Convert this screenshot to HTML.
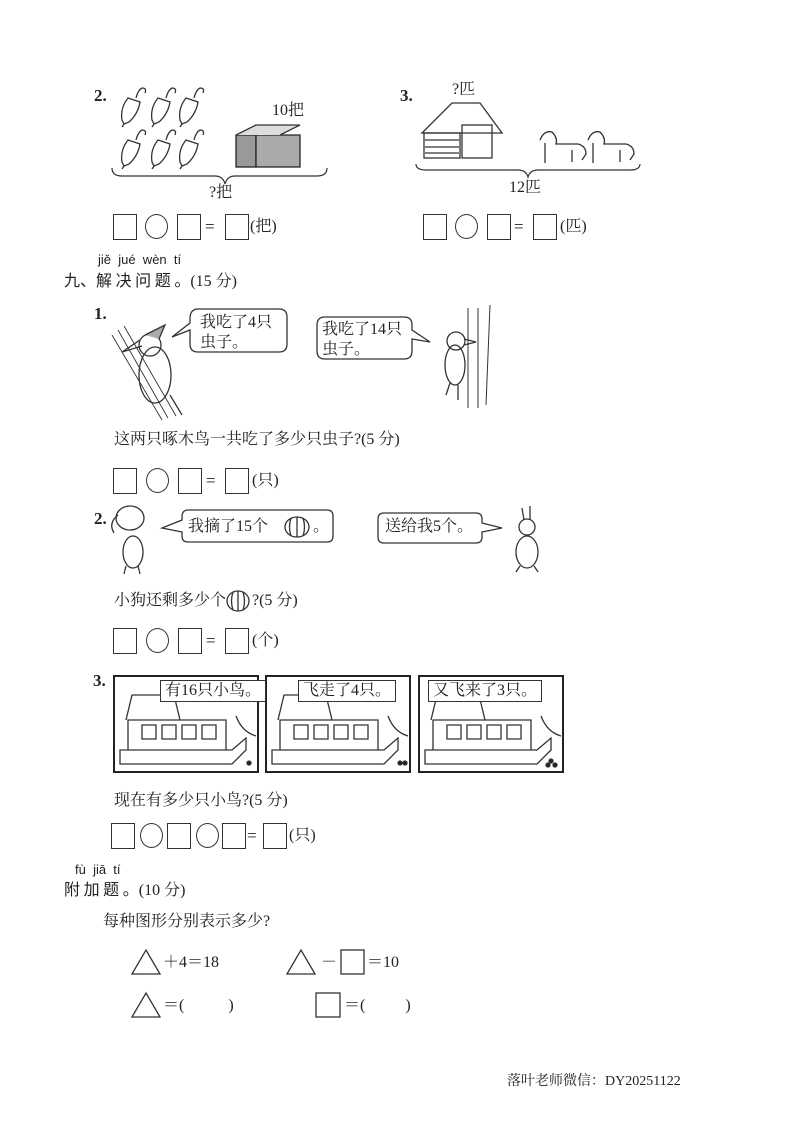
<!DOCTYPE html>
<html><head><meta charset="utf-8"><style>
body{margin:0;background:#fff;}
#p{position:relative;width:793px;height:1122px;overflow:hidden;font-family:"Liberation Serif","Noto Serif CJK SC","Noto Sans CJK SC",serif;color:#222;}
.t{position:absolute;white-space:nowrap;font-size:16px;line-height:1;}
.b{position:absolute;border:1.5px solid #333;width:22px;height:24px;}
.c{position:absolute;border:1.5px solid #333;width:21px;height:23px;border-radius:50%;}
.eq{position:absolute;font-size:17px;}
.n{position:absolute;font-weight:bold;font-size:17px;font-family:"Liberation Serif",serif;}
.py{position:absolute;font-family:"Liberation Sans",sans-serif;font-size:13px;}
.pan{position:absolute;border:2px solid #222;width:142px;height:94px;}
</style></head><body><div id="p">
<svg style="position:absolute;left:0;top:0" width="793" height="1122" fill="none" stroke="#333" stroke-width="1.3">
<!-- umbrellas -->
<g id="u"><path d="M128 98 q-8 10 -6 22 l2 4 l5-2 q9-8 11-20 z"/><path d="M136 98 q2-8 6-10 q5 0 3 5"/><path d="M124 124 l-2 3"/></g>
<use href="#u" x="30"/><use href="#u" x="58"/><use href="#u" y="42"/><use href="#u" x="30" y="42"/><use href="#u" x="58" y="42"/>
<!-- box -->
<rect x="236" y="135" width="20" height="32" fill="#999" stroke="#222"/>
<path d="M256 135 l44 0 l0 32 l-44 0z" fill="#aaa" stroke="#222"/>
<path d="M236 135 l20 -10 l44 0 l-20 10" fill="#ddd"/>
<path d="M112 168 q0 8 10 8 l93 0 q8 0 10 8 q2-8 10-8 l82 0 q10 0 10-8" stroke-width="1.2"/>
<!-- house -->
<path d="M422 133 l30-30 l28 0 l22 30 z"/><rect x="424" y="133" width="36" height="25"/><rect x="462" y="125" width="30" height="33"/>
<path d="M425 140h34M425 147h34M425 153h34"/>
<!-- horses -->
<path d="M540 140 q4-10 12-8 q6 6 4 12 l22 0 q8 2 8 10 l-4 6 M545 143 l0 20 M572 150 l0 12"/>
<path d="M588 140 q4-10 12-8 q6 6 4 12 l22 0 q8 2 8 10 l-4 6 M593 143 l0 20 M620 150 l0 12"/>
<path d="M416 164 q0 6 10 6 l92 0 q8 0 10 7 q2-7 10-7 l92 0 q10 0 10-6" stroke-width="1.2"/>
<!-- woodpecker 1 -->
<path d="M112 335 l50 85 M118 330 l50 88 M124 326 l52 90" stroke-width="0.9"/>
<ellipse cx="155" cy="375" rx="16" ry="28"/><circle cx="150" cy="345" r="11"/><path d="M140 340 l-18 12 l20-6"/><path d="M145 335 l20-10 l-6 14" fill="#aaa"/>
<path d="M170 395 l12 20"/>
<!-- bubbles -->
<path d="M190 319 q0-10 8-10 l81 0 q8 0 8 8 l0 27 q0 8-8 8 l-81 0 q-8 0-8-8 l0-14 l-18 7 l18-14z"/>
<path d="M317 325 q0-8 8-8 l79 0 q8 0 8 8 l0 5 l18 12 l-18-3 l0 12 q0 8-8 8 l-79 0 q-8 0-8-8z"/>
<!-- woodpecker 2 / tree -->
<path d="M468 308 l0 100 M490 305 l-4 100 M478 308 l0 100" stroke-width="1"/>
<ellipse cx="455" cy="365" rx="10" ry="20"/><circle cx="456" cy="341" r="9"/><path d="M464 339 l12 3 l-12 3"/><path d="M446 395 l4-12 M458 400 l0-15"/>
<path d="M182 517 q0-7 6-7 l139 0 q6 0 6 6 l0 20 q0 6-6 6 l-139 0 q-6 0-6-6 l0-4 l-20-4 l20-8z"/>
<path d="M378 519 q0-6 6-6 l92 0 q6 0 6 6 l0 4 l20 5 l-20 4 l0 5 q0 6-6 6 l-92 0 q-6 0-6-6z"/>
<!-- pumpkins -->
<ellipse cx="297" cy="527" rx="12" ry="10"/><path d="M297 517 l0 20 M291 518 q-3 9 0 18 M303 518 q3 9 0 18"/>
<ellipse cx="238" cy="601" rx="11" ry="10"/><path d="M238 591 l0 20 M233 592 q-3 9 0 18 M243 592 q3 9 0 18"/>
<!-- dog -->
<ellipse cx="130" cy="518" rx="14" ry="12"/><path d="M118 515 q-10 8 -4 18"/><ellipse cx="133" cy="552" rx="10" ry="16"/><path d="M126 566 l-2 8 M138 566 l2 8"/>
<!-- rabbit -->
<path d="M522 508 l2 12 M530 506 l0 14"/><circle cx="527" cy="527" r="8"/><ellipse cx="527" cy="552" rx="11" ry="16"/><path d="M520 566 l-4 6 M534 566 l4 6"/>
<!-- panels houses -->
<g id="h"><path d="M128 720 l98 0 l0 30 l-98 0z M126 720 l6-25 l42 0 l6 25 M142 725 h14v14h-14z M162 725h14v14h-14z M182 725h14v14h-14z M202 725h14v14h-14z M120 750 l112 0 l14 -12 l0 12 l-14 14 l-112 0z M236 716 q6 16 20 20"/></g>
<use href="#h" x="152"/><use href="#h" x="305"/>
<circle cx="249" cy="763" r="2" fill="#222"/><circle cx="400" cy="763" r="2" fill="#222"/><circle cx="405" cy="763" r="2" fill="#222"/>
<circle cx="551" cy="761" r="2" fill="#222"/><circle cx="555" cy="765" r="2" fill="#222"/><circle cx="548" cy="765" r="2" fill="#222"/>
<!-- triangles -->
<path d="M132 974 l14-24 l14 24z"/><path d="M287 974 l14-24 l14 24z"/><path d="M132 1017 l14-24 l14 24z"/>
<rect x="341" y="950" width="23" height="24"/><rect x="316" y="993" width="24" height="24"/>
</svg>
<div class="n" style="left:94px;top:86px">2.</div>
<div class="t" style="left:272px;top:103px">10把</div>
<div class="t" style="left:209px;top:185px">?把</div>
<div class="b" style="left:113px;top:214px"></div><div class="c" style="left:145px;top:214px"></div><div class="b" style="left:177px;top:214px"></div><div class="eq" style="left:205px;top:217px">=</div><div class="b" style="left:225px;top:214px"></div><div class="t" style="left:250px;top:219px">(把)</div>
<div class="n" style="left:400px;top:86px">3.</div>
<div class="t" style="left:452px;top:82px">?匹</div>
<div class="t" style="left:509px;top:180px">12匹</div>
<div class="b" style="left:423px;top:214px"></div><div class="c" style="left:455px;top:214px"></div><div class="b" style="left:487px;top:214px"></div><div class="eq" style="left:514px;top:217px">=</div><div class="b" style="left:533px;top:214px"></div><div class="t" style="left:560px;top:219px">(匹)</div>
<div class="py" style="left:98px;top:252px">jiě&nbsp; jué&nbsp; wèn&nbsp; tí</div>
<div class="t" style="left:64px;top:271px;font-family:'Noto Sans CJK SC',sans-serif;">九、解 决 问 题 。<span style="font-family:'Liberation Serif','Noto Serif CJK SC',serif">(15 分)</span></div>
<div class="n" style="left:94px;top:304px">1.</div>
<div class="t" style="left:200px;top:313px;line-height:20px">我吃了4只<br>虫子。</div>
<div class="t" style="left:322px;top:320px;line-height:20px">我吃了14只<br>虫子。</div>
<div class="t" style="left:114px;top:432px">这两只啄木鸟一共吃了多少只虫子?(5 分)</div>
<div class="b" style="left:113px;top:468px"></div><div class="c" style="left:146px;top:468px"></div><div class="b" style="left:178px;top:468px"></div><div class="eq" style="left:206px;top:471px">=</div><div class="b" style="left:225px;top:468px"></div><div class="t" style="left:252px;top:473px">(只)</div>
<div class="n" style="left:94px;top:509px">2.</div>
<div class="t" style="left:188px;top:519px">我摘了15个</div><div class="t" style="left:313px;top:519px">。</div>
<div class="t" style="left:385px;top:519px">送给我5个。</div>
<div class="t" style="left:114px;top:593px">小狗还剩多少个</div><div class="t" style="left:252px;top:593px">?(5 分)</div>
<div class="b" style="left:113px;top:628px"></div><div class="c" style="left:146px;top:628px"></div><div class="b" style="left:178px;top:628px"></div><div class="eq" style="left:206px;top:631px">=</div><div class="b" style="left:225px;top:628px"></div><div class="t" style="left:252px;top:633px">(个)</div>
<div class="n" style="left:93px;top:671px">3.</div>
<div class="pan" style="left:113px;top:675px"></div><div class="pan" style="left:265px;top:675px"></div><div class="pan" style="left:418px;top:675px"></div>
<div class="t" style="left:160px;top:680px;border:1.5px solid #333;background:#fff;padding:2px 4px">有16只小鸟。</div>
<div class="t" style="left:298px;top:680px;border:1.5px solid #333;background:#fff;padding:2px 4px">飞走了4只。</div>
<div class="t" style="left:428px;top:680px;border:1.5px solid #333;background:#fff;padding:2px 4px">又飞来了3只。</div>
<div class="t" style="left:114px;top:793px">现在有多少只小鸟?(5 分)</div>
<div class="b" style="left:111px;top:823px"></div><div class="c" style="left:140px;top:823px"></div><div class="b" style="left:167px;top:823px"></div><div class="c" style="left:196px;top:823px"></div><div class="b" style="left:222px;top:823px"></div><div class="eq" style="left:247px;top:826px">=</div><div class="b" style="left:263px;top:823px"></div><div class="t" style="left:289px;top:828px">(只)</div>
<div class="py" style="left:75px;top:862px">fù&nbsp; jiā&nbsp; tí</div>
<div class="t" style="left:64px;top:880px;font-family:'Noto Sans CJK SC',sans-serif;">附 加 题 。<span style="font-family:'Liberation Serif','Noto Serif CJK SC',serif">(10 分)</span></div>
<div class="t" style="left:103px;top:914px">每种图形分别表示多少?</div>
<div class="t" style="left:163px;top:955px">＋4＝18</div>
<div class="t" style="left:321px;top:955px">－</div><div class="t" style="left:367px;top:955px">＝10</div>
<div class="t" style="left:163px;top:998px">＝(&nbsp;&nbsp;&nbsp;&nbsp;&nbsp;&nbsp;&nbsp;&nbsp;&nbsp;&nbsp;&nbsp;)</div>
<div class="t" style="left:344px;top:998px">＝(&nbsp;&nbsp;&nbsp;&nbsp;&nbsp;&nbsp;&nbsp;&nbsp;&nbsp;&nbsp;)</div>
<div class="t" style="left:507px;top:1075px;font-size:14px">落叶老师微信：DY20251122</div>
</div></body></html>
